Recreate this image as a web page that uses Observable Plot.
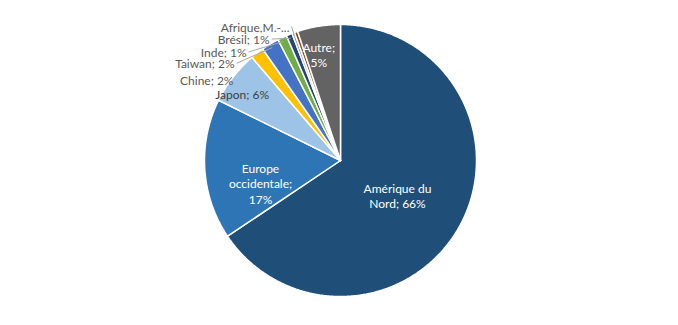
<!DOCTYPE html>
<html><head><meta charset="utf-8">
<script src="https://cdn.jsdelivr.net/npm/d3@7"></script>
<script src="https://cdn.jsdelivr.net/npm/@observablehq/plot@0.6"></script>
<style>body{margin:0;background:#fff;} #chart svg{display:block;}</style>
</head><body><div id="chart"></div>
<script>
// ---- data ----
const categories = ["Amérique du Nord","Europe occidentale","Japon","Chine","Taiwan","Inde","Brésil","Afrique,M.-...","(sans étiquette)","Autre"];
const shares     = [65.6, 16.7, 6.4, 1.6, 2.1, 1.1, 0.7, 0.3, 0.4, 5.1];
const labels     = ["Amérique du\nNord; 66%","Europe\noccidentale;\n17%","Japon; 6%","Chine; 2%","Taiwan; 2%","Inde; 1%","Brésil; 1%","Afrique,M.-...","","Autre;\n5%"];
const colors     = ["#1F4E79","#2E75B6","#9DC3E6","#FFC000","#4472C4","#70AD47","#264478","#5B9BD5","#9E480E","#636363"];

// ---- layout (label placement in pie units, radius = 1) ----
const labelLayout = {
  "Amérique du Nord":   {x: 0.419, y:-0.257, anchor:"middle", fill:"#ffffff"},
  "Europe occidentale": {x:-0.588, y:-0.167, anchor:"middle", fill:"#ffffff"},
  "Japon":              {x:-0.723, y: 0.490, anchor:"middle", fill:"#404040"},
  "Chine":              {x:-0.787, y: 0.593, anchor:"end",    fill:"#595959"},
  "Taiwan":             {x:-0.779, y: 0.715, anchor:"end",    fill:"#595959", leader:true},
  "Inde":               {x:-0.691, y: 0.798, anchor:"end",    fill:"#595959", leader:true},
  "Brésil":             {x:-0.522, y: 0.893, anchor:"end",    fill:"#595959", leader:true},
  "Afrique,M.-...":     {x:-0.375, y: 0.985, anchor:"end",    fill:"#595959", leader:true},
  "Autre":              {x:-0.160, y: 0.778, anchor:"middle", fill:"#ffffff"}
};

const table = categories.map((name, i) => ({name, value: shares[i], label: labels[i], color: colors[i]}));
const arcs = d3.pie().sort(null).value(d => d.value)(table);

const pts = [];
arcs.forEach(p => {
  const name = p.data.name;
  pts.push({name, x: 0, y: 0});
  const n = Math.max(2, Math.ceil((p.endAngle - p.startAngle) / 0.01));
  for (let i = 0; i <= n; i++) {
    const a = p.startAngle + (p.endAngle - p.startAngle) * i / n;
    pts.push({name, x: Math.sin(a), y: Math.cos(a)});
  }
  pts.push({name, x: 0, y: 0});
});

const textData = [], leaders = [];
arcs.forEach(p => {
  const L = labelLayout[p.data.name];
  if (!L || !p.data.label) return;
  textData.push({x: L.x, y: L.y, text: p.data.label, anchor: L.anchor, fill: L.fill});
  if (L.leader) {
    const a = (p.startAngle + p.endAngle) / 2;
    leaders.push({x1: L.x + 0.015, y1: L.y, x2: 0.97 * Math.sin(a), y2: 0.97 * Math.cos(a)});
  }
});

const cx = 340, cy = 160, R = 136;
const textMarks = ["middle","end"].map(anc =>
  Plot.text(textData.filter(d => d.anchor === anc), {
    x: "x", y: "y", text: "text", fill: d => d.fill,
    textAnchor: anc, lineAnchor: "middle", lineHeight: 1.3,
    fontSize: 12, fontFamily: "Lato"
  })
);

const chart = Plot.plot({
  width: 678, height: 325,
  x: {domain: [-1, 1], range: [cx - R, cx + R], axis: null},
  y: {domain: [-1, 1], range: [cy + R, cy - R], axis: null},
  color: {domain: categories, range: colors},
  style: {fontFamily: "Lato", background: "#fff"},
  marks: [
    Plot.line(pts, {x: "x", y: "y", z: "name", fill: "name", stroke: "#ffffff", strokeWidth: 1.5, curve: "linear", strokeLinejoin: "miter"}),
    Plot.link(leaders, {x1: "x1", y1: "y1", x2: "x2", y2: "y2", stroke: "#a6a6a6", strokeWidth: 1}),
    ...textMarks
  ]
});
document.getElementById("chart").append(chart);
</script>
</body></html>
